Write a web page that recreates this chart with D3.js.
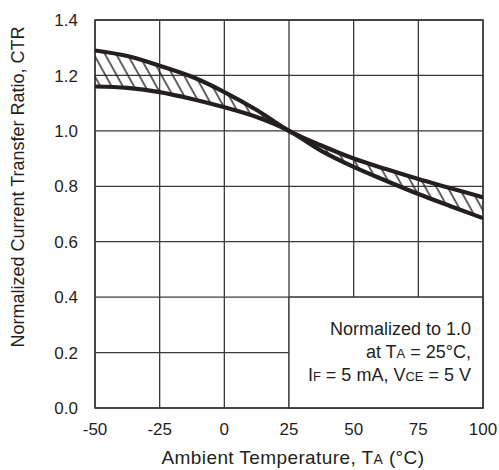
<!DOCTYPE html>
<html>
<head>
<meta charset="utf-8">
<script src="https://cdn.jsdelivr.net/npm/d3@7"></script>
<style>
  body { margin: 0; background: #fff; }
  text { font-family: "Liberation Sans", Arial, sans-serif; fill: #231f20; }
</style>
</head>
<body>
<script>
// chart data
var temps = [-50, -37.5, -25, -12.5, 0, 12.5, 25, 37.5, 50, 62.5, 75, 87.5, 100];
var ctrUpper = [1.29, 1.27, 1.235, 1.195, 1.14, 1.075, 1.0, 0.947, 0.9, 0.862, 0.826, 0.793, 0.76];
var ctrLower = [1.16, 1.155, 1.14, 1.115, 1.085, 1.05, 1.0, 0.928, 0.87, 0.82, 0.772, 0.728, 0.685];
var xTicks = [-50, -25, 0, 25, 50, 75, 100];
var yTicks = [0, 0.2, 0.4, 0.6, 0.8, 1.0, 1.2, 1.4];

var W = 499, H = 470;
var margin = { top: 20, right: 16, bottom: 62, left: 95 };
var width = W - margin.left - margin.right;
var height = H - margin.top - margin.bottom;

var svg = d3.select("body").append("svg")
	.attr("width", W)
	.attr("height", H);

var x = d3.scaleLinear().domain([-50, 100]).range([0, width]);
var y = d3.scaleLinear().domain([0, 1.4]).range([height, 0]);

var g = svg.append("g")
	.attr("transform", "translate(" + margin.left + "," + margin.top + ")");

var ink = "#231f20";

// hatch pattern
var defs = svg.append("defs");
defs.append("pattern")
	.attr("id", "hatch")
	.attr("patternUnits", "userSpaceOnUse")
	.attr("width", 9.8)
	.attr("height", 20)
	.attr("patternTransform", "rotate(-29)")
	.append("line")
		.attr("x1", 2).attr("y1", 0)
		.attr("x2", 2).attr("y2", 20)
		.attr("stroke", ink)
		.attr("stroke-width", 1.4);

defs.append("clipPath").attr("id", "plotClip")
	.append("rect").attr("width", width).attr("height", height);

// grid
g.append("g").selectAll("line.v")
	.data(xTicks)
	.enter().append("line")
		.attr("x1", function(d) { return x(d); })
		.attr("x2", function(d) { return x(d); })
		.attr("y1", 0).attr("y2", height)
		.attr("stroke", "#3a3a3a").attr("stroke-width", 1.3);
g.append("g").selectAll("line.h")
	.data(yTicks)
	.enter().append("line")
		.attr("y1", function(d) { return y(d); })
		.attr("y2", function(d) { return y(d); })
		.attr("x1", 0).attr("x2", width)
		.attr("stroke", "#3a3a3a").attr("stroke-width", 1.3);

// note box in lower right covers the grid there
g.append("rect")
	.attr("x", x(25))
	.attr("y", y(0.4))
	.attr("width", x(100) - x(25))
	.attr("height", y(0) - y(0.4))
	.attr("fill", "#fff")
	.attr("stroke", "#3a3a3a")
	.attr("stroke-width", 1.3);

// frame
g.append("rect")
	.attr("width", width).attr("height", height)
	.attr("fill", "none")
	.attr("stroke", "#3a3a3a")
	.attr("stroke-width", 1.5);

var pts = temps.map(function(t, i) { return { t: t, hi: ctrUpper[i], lo: ctrLower[i] }; });

var band = d3.area()
	.x(function(d) { return x(d.t); })
	.y0(function(d) { return y(d.lo); })
	.y1(function(d) { return y(d.hi); })
	.curve(d3.curveMonotoneX);

g.append("path")
	.datum(pts)
	.attr("d", band)
	.attr("fill", "url(#hatch)");

var lineHi = d3.line().x(function(d) { return x(d.t); }).y(function(d) { return y(d.hi); }).curve(d3.curveMonotoneX);
var lineLo = d3.line().x(function(d) { return x(d.t); }).y(function(d) { return y(d.lo); }).curve(d3.curveMonotoneX);

var curves = g.append("g").attr("clip-path", "url(#plotClip)");
[lineHi, lineLo].forEach(function(fn) {
	curves.append("path")
		.datum(pts)
		.attr("d", fn)
		.attr("fill", "none")
		.attr("stroke", ink)
		.attr("stroke-width", 4.2);
});

// tick labels
g.append("g").selectAll("text")
	.data(yTicks)
	.enter().append("text")
		.attr("x", -17)
		.attr("y", function(d) { return y(d); })
		.attr("dy", "0.36em")
		.attr("text-anchor", "end")
		.style("font-size", "17px")
		.text(function(d) { return d.toFixed(1); });

g.append("g").selectAll("text")
	.data(xTicks)
	.enter().append("text")
		.attr("x", function(d) { return x(d); })
		.attr("y", height + 21)
		.attr("dy", "0.36em")
		.attr("text-anchor", "middle")
		.style("font-size", "17px")
		.text(function(d) { return d; });

// axis titles
var xt = svg.append("text")
	.attr("x", 293)
	.attr("y", 457)
	.attr("dy", "0.36em")
	.attr("text-anchor", "middle")
	.style("font-size", "19px")
	.style("letter-spacing", "0.4px");
xt.append("tspan").text("Ambient Temperature, T");
xt.append("tspan").style("font-size", "14px").text("A");
xt.append("tspan").text(" (°C)");

svg.append("text")
	.attr("transform", "translate(18,187) rotate(-90)")
	.attr("dy", "0.36em")
	.attr("text-anchor", "middle")
	.style("font-size", "18px")
	.text("Normalized Current Transfer Ratio, CTR");

// note text
var noteX = 471;
var note = svg.append("g").style("font-size", "18px").attr("text-anchor", "end");
note.append("text").attr("x", noteX).attr("y", 329).attr("dy", "0.36em")
	.text("Normalized to 1.0");
var n2 = note.append("text").attr("x", noteX).attr("y", 352).attr("dy", "0.36em");
n2.append("tspan").text("at T");
n2.append("tspan").style("font-size", "13px").text("A");
n2.append("tspan").text(" = 25°C,");
var n3 = note.append("text").attr("x", noteX).attr("y", 375).attr("dy", "0.36em");
n3.append("tspan").text("I");
n3.append("tspan").style("font-size", "13px").text("F");
n3.append("tspan").text(" = 5 mA, V");
n3.append("tspan").style("font-size", "13px").text("CE");
n3.append("tspan").text(" = 5 V");
</script>
</body>
</html>
